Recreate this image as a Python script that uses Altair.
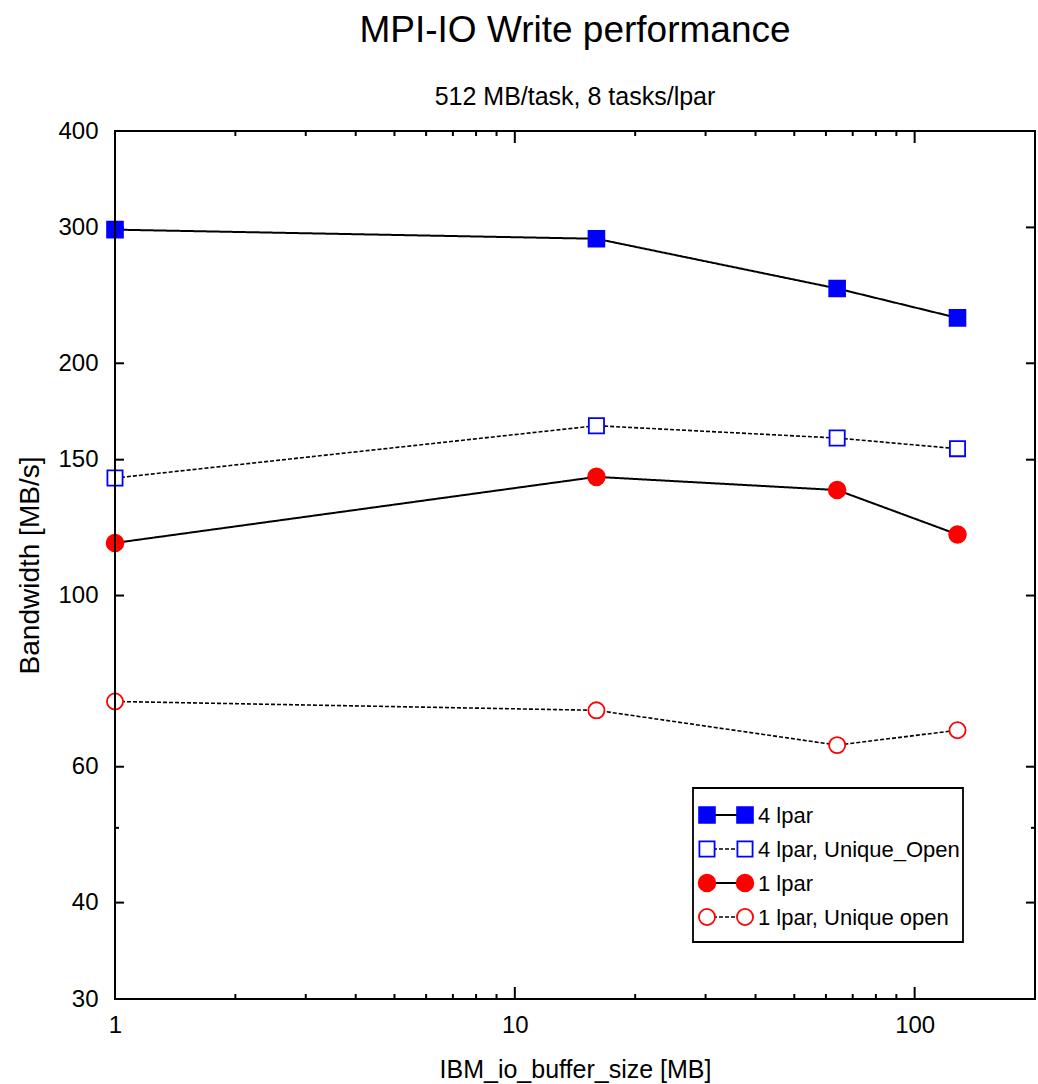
import altair as alt
import pandas as pd

# ---------------- data ----------------
buffer_mb = [1, 16, 64, 128]
series_names = ["4 lpar", "4 lpar, Unique_Open", "1 lpar", "1 lpar, Unique open"]
bw_4lpar = [298, 290, 250, 229]
bw_4lpar_unique = [142, 166, 160, 155]
bw_1lpar = [117, 142.5, 137, 120]
bw_1lpar_unique = [72.9, 71, 64, 66.9]

x_label_values = [1, 10, 100]
y_label_values = [30, 40, 60, 100, 150, 200, 300, 400]
x_major_ticks = [10, 100]
x_minor_ticks = [2, 3, 4, 5, 6, 7, 8, 9, 20, 30, 40, 50, 60, 70, 80, 90]
y_major_ticks = [40, 60, 100, 150, 200, 300]
y_minor_ticks = [50]

series_values = [bw_4lpar, bw_4lpar_unique, bw_1lpar, bw_1lpar_unique]

# ---------------- styles ----------------
W, H = 920, 868
FONT = "Liberation Sans"
marker_shape = ["square", "square", "circle", "circle"]
marker_size = [250, 230, 280, 260]
marker_fill = ["#0000ff", "#ffffff", "#ff0000", "#ffffff"]
marker_stroke = ["#0000ff", "#0000ff", "#ff0000", "#ff0000"]
line_dash = [[1, 0], [4, 2], [1, 0], [4, 2]]
line_width = [2, 1.6, 2, 1.6]

xscale = alt.Scale(type="log", domain=[1, 200], nice=False)
yscale = alt.Scale(type="log", domain=[30, 400], nice=False)


def X():
    return alt.X(
        "x:Q",
        scale=xscale,
        axis=alt.Axis(
            title="IBM_io_buffer_size [MB]",
            values=x_label_values,
            format="d",
            ticks=False,
            domain=False,
            grid=False,
            labelPadding=14,
            labelFontSize=24,
            titleFontSize=25,
            titleFontWeight="normal",
            titlePadding=20,
            labelFlush=False,
        ),
    )


def Y():
    return alt.Y(
        "y:Q",
        scale=yscale,
        axis=alt.Axis(
            title="Bandwidth [MB/s]",
            values=y_label_values,
            format="d",
            ticks=False,
            domain=False,
            grid=False,
            labelPadding=17,
            labelFontSize=24,
            titleFontSize=28,
            titleFontWeight="normal",
            titlePadding=13,
            labelFlush=False,
        ),
    )


layers = []

# manual inward ticks (gnuplot style)
xt_major = pd.DataFrame({"x": x_major_ticks})
xt_minor = pd.DataFrame({"x": x_minor_ticks})
yt_major = pd.DataFrame({"y": y_major_ticks})
yt_minor = pd.DataFrame({"y": y_minor_ticks})

TICK_W = 2
for df, ln in [(xt_major, 12), (xt_minor, 5)]:
    layers.append(alt.Chart(df).mark_rule(color="black", strokeWidth=TICK_W).encode(
        x=X(), y=alt.value(H), y2=alt.value(H - ln)))
    layers.append(alt.Chart(df).mark_rule(color="black", strokeWidth=TICK_W).encode(
        x=X(), y=alt.value(0), y2=alt.value(ln)))
for df, ln in [(yt_major, 9), (yt_minor, 4)]:
    layers.append(alt.Chart(df).mark_rule(color="black", strokeWidth=TICK_W).encode(
        y=Y(), x=alt.value(0), x2=alt.value(ln)))
    layers.append(alt.Chart(df).mark_rule(color="black", strokeWidth=TICK_W).encode(
        y=Y(), x=alt.value(W), x2=alt.value(W - ln)))

# data series
for i, name in enumerate(series_names):
    df = pd.DataFrame({"x": buffer_mb, "y": series_values[i], "series": name})
    layers.append(alt.Chart(df).mark_line(
        color="black", strokeWidth=line_width[i], strokeDash=line_dash[i]
    ).encode(x=X(), y=Y()))
for i, name in enumerate(series_names):
    df = pd.DataFrame({"x": buffer_mb, "y": series_values[i], "series": name})
    layers.append(alt.Chart(df).mark_point(
        shape=marker_shape[i], size=marker_size[i], filled=True,
        fill=marker_fill[i], stroke=marker_stroke[i], strokeWidth=1.8, opacity=1
    ).encode(x=X(), y=Y()))

# legend box (manual, gnuplot style)
box_df = pd.DataFrame({"k": [0]})
layers.append(alt.Chart(box_df).mark_rect(
    fill="white", stroke="black", strokeWidth=1.8
).encode(x=alt.value(578), x2=alt.value(848), y=alt.value(657), y2=alt.value(811)))

LEG_TOP, LEG_STEP = 684, 34
for i, name in enumerate(series_names):
    ly = LEG_TOP + LEG_STEP * i
    ldf = pd.DataFrame({"label": [name]})
    layers.append(alt.Chart(ldf).mark_rule(
        color="black", strokeWidth=line_width[i], strokeDash=line_dash[i]
    ).encode(x=alt.value(592), x2=alt.value(630), y=alt.value(ly)))
    for px in (592, 630):
        layers.append(alt.Chart(ldf).mark_point(
            shape=marker_shape[i], size=marker_size[i], filled=True,
            fill=marker_fill[i], stroke=marker_stroke[i], strokeWidth=1.8, opacity=1
        ).encode(x=alt.value(px), y=alt.value(ly)))
    layers.append(alt.Chart(ldf).mark_text(
        align="left", baseline="middle", font=FONT, fontSize=22, color="black"
    ).encode(x=alt.value(643), y=alt.value(ly + 1), text="label:N"))

# plot frame
layers.append(alt.Chart(box_df).mark_rect(
    fill=None, fillOpacity=0, stroke="black", strokeWidth=2
).encode(x=alt.value(0), x2=alt.value(W), y=alt.value(0), y2=alt.value(H)))

chart = alt.layer(*layers).properties(
    width=W,
    height=H,
    title=alt.TitleParams(
        text="MPI-IO Write performance",
        subtitle="512 MB/task, 8 tasks/lpar",
        font=FONT,
        subtitleFont=FONT,
        fontSize=37,
        subtitleFontSize=25,
        fontWeight="normal",
        color="black",
        subtitleColor="black",
        anchor="middle",
        offset=8,
        subtitlePadding=35,
    ),
    autosize=alt.AutoSizeParams(type="none"),
    padding={"left": 115, "top": 131, "right": 3, "bottom": 85},
).configure_view(
    stroke=None
).configure_axis(
    labelFont=FONT, titleFont=FONT, labelColor="black", titleColor="black",
    titleFontWeight="normal",
).configure(background="white")

chart.save("out.html", embed_options={"renderer": "svg", "actions": False})
